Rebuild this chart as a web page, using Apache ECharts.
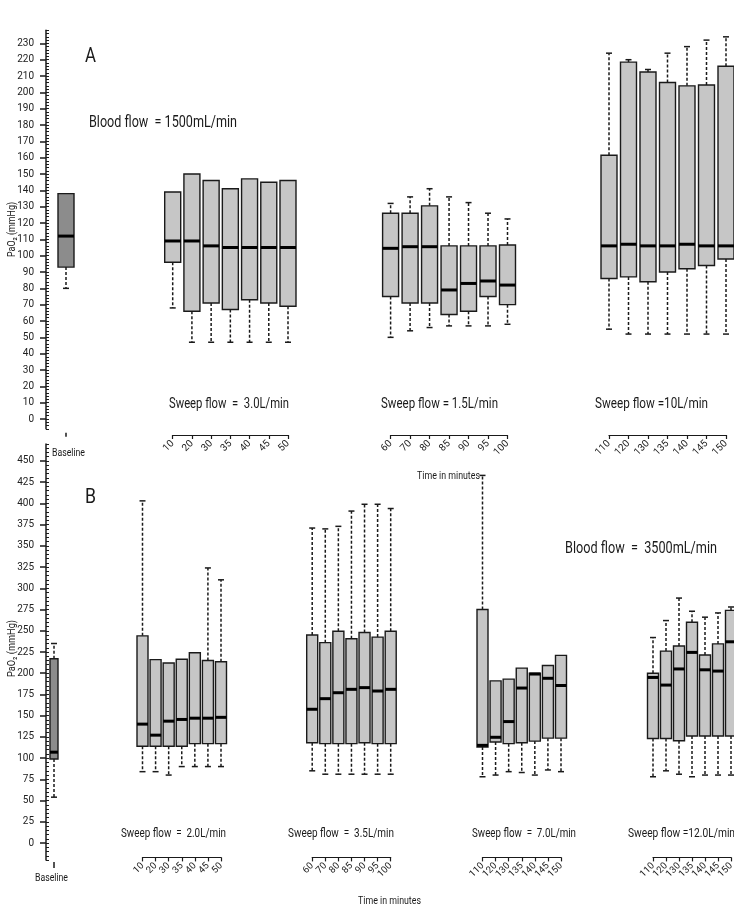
<!DOCTYPE html>
<html>
<head>
<meta charset="UTF-8">
<title>PaO2 boxplots</title>
<style>
  html,body{margin:0;padding:0;background:#fff;}
  #main{width:734px;height:919px;}
</style>
</head>
<body>
<div id="main"></div>
<script src="https://cdn.jsdelivr.net/npm/echarts@6/dist/echarts.min.js"></script>
<script>
// rows: [low whisker, Q1, median, Q3, high whisker]
// panel A - blood flow 1500 mL/min
var baselineA = [[80, 93, 112, 138, 138]];
var timesA1 = ['10', '20', '30', '35', '40', '45', '50'];
var sweep30 = [
    [68, 96, 109, 139, 139],
    [47, 66, 109, 150, 150],
    [47, 71, 106, 146, 146],
    [47, 67, 105, 141, 141],
    [47, 73, 105, 147, 147],
    [47, 71, 105, 145, 145],
    [47, 69, 105, 146, 146]
];
var timesA2 = ['60', '70', '80', '85', '90', '95', '100'];
var sweep15 = [
    [50, 75, 104.5, 126, 132],
    [54, 71, 105.5, 126, 136],
    [56, 71, 105.5, 130.5, 141],
    [57, 64, 79, 106, 136],
    [57, 66, 83, 106, 132.5],
    [57, 75, 84.5, 106, 126],
    [58, 70, 82, 106.5, 122.5]
];
var timesA3 = ['110', '120', '130', '135', '140', '145', '150'];
var sweep10 = [
    [55, 86, 106, 161.5, 224],
    [52, 87, 107, 218.5, 220],
    [52, 84, 106, 212.5, 214],
    [52, 90, 106, 206, 224],
    [52, 92, 107, 204, 228],
    [52, 94, 106, 204.5, 232],
    [52, 98, 106, 216, 234]
];

// panel B - blood flow 3500 mL/min
var baselineB = [[54, 99, 107, 217, 235]];
var timesB1 = ['10', '20', '30', '35', '40', '45', '50'];
var sweep20 = [
    [84, 114, 140, 244, 403],
    [84, 114, 127, 216, 216],
    [80, 114, 143.5, 212, 212],
    [90, 114, 145.5, 216.5, 216.5],
    [90, 117, 147, 224, 224],
    [90, 117, 147, 215, 324],
    [90, 117, 148, 213.5, 310]
];
var timesB2 = ['60', '70', '80', '85', '90', '95', '100'];
var sweep35 = [
    [85, 118, 157.5, 245, 371],
    [81, 117, 170, 236, 370],
    [81, 117, 177, 249.5, 373],
    [81, 117, 181, 240.5, 391],
    [81, 118, 183, 248, 399],
    [81, 117, 179, 242.5, 399],
    [81, 117, 181, 249.5, 394]
];
var timesB3 = ['110', '120', '130', '135', '140', '145', '150'];
var sweep70 = [
    [78, 113, 115, 275, 433],
    [80, 119, 124.5, 191, 191],
    [84, 117, 143, 193, 193],
    [83, 118, 182.5, 206, 206],
    [80, 120, 199, 200, 200],
    [86, 123.5, 194, 209, 209],
    [84, 123.5, 185.5, 221, 221]
];
var timesB4 = ['110', '120', '130', '135', '140', '145', '150'];
var sweep120 = [
    [78, 123, 195, 200, 242],
    [85, 123, 186, 226, 262],
    [81, 120.5, 205, 232, 288.5],
    [78, 126, 224.5, 260, 273],
    [80, 126, 204, 221.5, 266],
    [80, 126, 202.5, 234.5, 271],
    [80, 126, 237, 274, 278]
];

var ticksA = [], ticksB = [];
for (var v = 0; v <= 230; v += 10) ticksA.push(v);
for (var w = 0; w <= 450; w += 25) ticksB.push(w);

var FONT = "Roboto, 'Liberation Sans', sans-serif";
var INK = '#1a1a1a';

function makeBox(boxW, fill) {
    return function (params, api) {
        var i = api.value(0);
        var lo = api.coord([i, api.value(1)]);
        var q1 = api.coord([i, api.value(2)]);
        var md = api.coord([i, api.value(3)]);
        var q3 = api.coord([i, api.value(4)]);
        var hi = api.coord([i, api.value(5)]);
        var x = lo[0], h = boxW / 2, c = 3;
        var dash = {stroke: INK, lineWidth: 1.5, lineDash: [3, 2]};
        var solid = {stroke: INK, lineWidth: 1.5};
        var kids = [];
        if (q3[1] - hi[1] > 0.5) {
            kids.push({type: 'line', shape: {x1: x, y1: q3[1], x2: x, y2: hi[1]}, style: dash});
            kids.push({type: 'line', shape: {x1: x - c, y1: hi[1], x2: x + c, y2: hi[1]}, style: solid});
        }
        if (lo[1] - q1[1] > 0.5) {
            kids.push({type: 'line', shape: {x1: x, y1: q1[1], x2: x, y2: lo[1]}, style: dash});
            kids.push({type: 'line', shape: {x1: x - c, y1: lo[1], x2: x + c, y2: lo[1]}, style: solid});
        }
        kids.push({type: 'rect', shape: {x: x - h, y: q3[1], width: boxW, height: q1[1] - q3[1]},
            style: {fill: fill, stroke: INK, lineWidth: 1.4}});
        kids.push({type: 'line', shape: {x1: x - h, y1: md[1], x2: x + h, y2: md[1]},
            style: {stroke: '#000', lineWidth: 3}});
        return {type: 'group', children: kids};
    };
}

function boxSeries(rows, axisIdx, boxW, fill) {
    return {
        type: 'custom',
        xAxisIndex: axisIdx,
        yAxisIndex: axisIdx,
        renderItem: makeBox(boxW, fill),
        encode: {x: 0, y: [1, 2, 3, 4, 5]},
        data: rows.map(function (r, i) { return [i].concat(r); }),
        silent: true
    };
}

function grid(left, width, top, height) {
    return {left: left, width: width, top: top, height: height, outerBoundsMode: 'none', containLabel: false};
}

function baseX(gi, offset, len) {
    return {
        type: 'category', gridIndex: gi, data: ['Baseline'], boundaryGap: true, offset: offset,
        axisLine: {show: false, onZero: false},
        axisTick: {show: true, alignWithLabel: true, length: len, lineStyle: {color: INK, width: 1.5}},
        axisLabel: {show: false}, splitLine: {show: false}
    };
}

function groupX(gi, times, fs) {
    return {
        type: 'category', gridIndex: gi, data: times, boundaryGap: false,
        axisLine: {show: true, onZero: false, lineStyle: {color: INK, width: 1.2}},
        axisTick: {show: true, length: 4, interval: 0, lineStyle: {color: INK, width: 1.2}},
        axisLabel: {rotate: 45, interval: 0, margin: 7, fontSize: fs, fontFamily: FONT, color: '#222'},
        splitLine: {show: false}
    };
}

function mainY(gi, min, max, ticks) {
    return {
        type: 'value', gridIndex: gi, position: 'left', min: min, max: max,
        axisLine: {show: true, lineStyle: {color: INK, width: 1.5}},
        axisTick: {show: true, length: 6, customValues: ticks, lineStyle: {color: INK, width: 1.5}},
        axisLabel: {customValues: ticks, margin: 12, fontSize: 10, fontFamily: FONT, color: '#222'},
        splitLine: {show: false}
    };
}

function minorY(gi, min, max, step) {
    return {
        type: 'value', gridIndex: gi, position: 'left', min: min, max: max, interval: step,
        axisLine: {show: false},
        axisTick: {show: true, inside: true, length: 3, lineStyle: {color: INK, width: 1}},
        axisLabel: {show: false}, splitLine: {show: false}
    };
}

function hiddenY(gi, min, max) {
    return {type: 'value', gridIndex: gi, min: min, max: max, show: false, splitLine: {show: false}};
}

// narrow look: squeeze each free text to the width it has in the figure
var meas = document.createElement('canvas').getContext('2d');
function txt(x, y, s, size, width, extra) {
    meas.font = size + 'px ' + FONT;
    var el = {
        type: 'text', x: x, y: y, silent: true,
        scaleX: width ? width / meas.measureText(s).width : 1,
        style: {text: s, fontSize: size, fontFamily: FONT, fill: '#1a1a1a',
            textAlign: 'left', textVerticalAlign: 'middle'}
    };
    if (extra) for (var k in extra) el[k] = extra[k];
    return el;
}

var LIGHT = '#c6c6c6', DARK = '#8c8c8c';

var option = {
    backgroundColor: '#fff',
    animation: false,
    grid: [
        grid(46, 40, 30.3, 398.5),
        grid(172.7, 115.3, 30.3, 404.7),
        grid(390.6, 116.9, 30.3, 404.7),
        grid(609, 117, 30.3, 404.7),
        grid(46, 16, 444, 416),
        grid(142.5, 78.5, 444, 413.4),
        grid(312.2, 78.5, 444, 413.4),
        grid(482.5, 78.5, 444, 413.4),
        grid(653, 78, 444, 413.4)
    ],
    xAxis: [
        baseX(0, 4, 4),
        groupX(1, timesA1, 10),
        groupX(2, timesA2, 10),
        groupX(3, timesA3, 10),
        baseX(4, 2, 6),
        groupX(5, timesB1, 9.5),
        groupX(6, timesB2, 9.5),
        groupX(7, timesB3, 9.5),
        groupX(8, timesB4, 9.5)
    ],
    yAxis: [
        mainY(0, -6, 238, ticksA),
        hiddenY(1, -9.8, 238),
        hiddenY(2, -9.8, 238),
        hiddenY(3, -9.8, 238),
        mainY(4, -20, 470, ticksB),
        hiddenY(5, -17, 470),
        hiddenY(6, -17, 470),
        hiddenY(7, -17, 470),
        hiddenY(8, -17, 470),
        minorY(0, -6, 238, 2),
        minorY(4, -20, 470, 5)
    ],
    series: [
        boxSeries(baselineA, 0, 16, DARK),
        boxSeries(sweep30, 1, 16, LIGHT),
        boxSeries(sweep15, 2, 16, LIGHT),
        boxSeries(sweep10, 3, 16, LIGHT),
        boxSeries(baselineB, 4, 8, DARK),
        boxSeries(sweep20, 5, 11, LIGHT),
        boxSeries(sweep35, 6, 11, LIGHT),
        boxSeries(sweep70, 7, 11, LIGHT),
        boxSeries(sweep120, 8, 11, LIGHT)
    ],
    graphic: {
        elements: [
            txt(85, 57, 'A', 20, 11),
            txt(89, 123, 'Blood flow  = 1500mL/min', 16, 148),
            txt(169, 404, 'Sweep flow  =  3.0L/min', 14, 120),
            txt(381, 404, 'Sweep flow = 1.5L/min', 14, 117),
            txt(595, 404, 'Sweep flow =10L/min', 14, 113),
            txt(52, 453, 'Baseline', 10, 33),
            txt(417, 476, 'Time in minutes', 10, 63),
            txt(12, 257, 'PaO\u2082 (mmHg)', 11, 55, {rotation: Math.PI / 2}),
            txt(85, 498, 'B', 20, 11),
            txt(565, 549, 'Blood flow  =  3500mL/min', 16, 152),
            txt(121, 834, 'Sweep flow  =  2.0L/min', 12.5, 105),
            txt(288, 834, 'Sweep flow  =  3.5L/min', 12.5, 106),
            txt(472, 834, 'Sweep flow  =  7.0L/min', 12.5, 104),
            txt(628, 834, 'Sweep flow =12.0L/min', 12.5, 107),
            txt(35, 878, 'Baseline', 10, 33),
            txt(358, 901, 'Time in minutes', 10, 63),
            txt(12, 677, 'PaO\u2082 (mmHg)', 11, 57, {rotation: Math.PI / 2})
        ]
    }
};

var chart = echarts.init(document.getElementById('main'));
chart.setOption(option);
</script>
</body>
</html>
